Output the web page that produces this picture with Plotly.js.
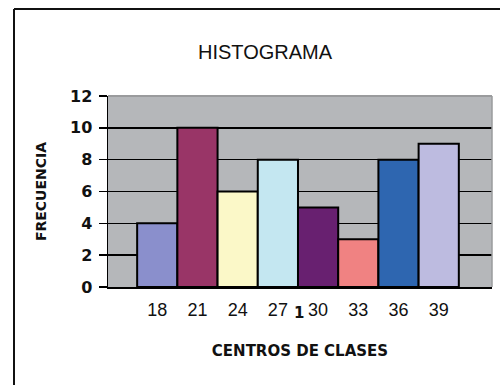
<!DOCTYPE html>
<html>
<head>
<meta charset="utf-8">
<script src="https://cdn.plot.ly/plotly-3.0.1.min.js"></script>
<style>
html,body{margin:0;padding:0;background:#fff;}
#chart{width:500px;height:385px;}
</style>
</head>
<body>
<div id="chart"></div>
<script>
const categories = ["18", "21", "24", "27", "30", "33", "36", "39"];
const frecuencia = [4, 10, 6, 8, 5, 3, 8, 9];
const barColors = ["#8a8fcc", "#993567", "#fbf8c8", "#c4e7f1", "#682070", "#f08282", "#2e66b0", "#bdbbe0"];
const yTicks = [0, 2, 4, 6, 8, 10, 12];

const positions = categories.map((c, i) => i);

const L = 108, R = 8, T = 96, B = 98, W = 500, H = 385;
const pw = W - L - R, ph = H - T - B;
const px = x => (x - L) / pw;
const py = y => (H - B - y) / ph;

const trace = {
  type: "bar",
  x: positions,
  y: frecuencia,
  width: 1,
  marker: {color: barColors, line: {color: "#000", width: 2}},
  hoverinfo: "skip"
};

const layout = {
  width: W, height: H,
  margin: {l: L, r: R, t: T, b: B, pad: 0},
  paper_bgcolor: "#fff",
  plot_bgcolor: "#b5b7ba",
  showlegend: false,
  bargap: 0,
  font: {family: "Liberation Sans, Arial, sans-serif", color: "#111"},
  title: {text: "HISTOGRAMA", font: {size: 20, family: "Liberation Sans, Arial, sans-serif", color: "#111"},
          x: px(265), xref: "paper", xanchor: "center", y: 1 - 52 / H, yanchor: "middle"},
  xaxis: {
    range: [-1.225, 8.325],
    tickmode: "array", tickvals: positions, ticktext: categories,
    showgrid: false, zeroline: false,
    showline: true, linecolor: "#000", linewidth: 1.5,
    ticks: "", ticklen: 0, ticklabelstandoff: 6,
    tickfont: {size: 18, family: "Liberation Sans, Arial, sans-serif", color: "#111"},
    title: {text: "CENTROS DE CLASES", standoff: 26,
            font: {size: 15, family: "DejaVu Sans, sans-serif", color: "#111", weight: "bold"}}
  },
  yaxis: {
    range: [0, 12],
    tickmode: "array", tickvals: yTicks,
    showgrid: true, gridcolor: "#000", gridwidth: 1.5,
    zeroline: false,
    showline: true, linecolor: "#000", linewidth: 1.5,
    ticks: "outside", ticklen: 8, tickcolor: "#000", tickwidth: 1.5,
    ticklabelstandoff: 3,
    tickfont: {size: 16, family: "DejaVu Sans, sans-serif", color: "#111", weight: "bold"},
    title: {text: "FRECUENCIA", standoff: 20,
            font: {size: 14, family: "DejaVu Sans, sans-serif", color: "#111", weight: "bold"}}
  },
  shapes: [
    {type: "line", xref: "paper", yref: "paper", x0: px(14), x1: px(14), y0: py(9), y1: py(385), line: {color: "#111", width: 2}},
    {type: "line", xref: "paper", yref: "paper", x0: px(14), x1: px(500), y0: py(9), y1: py(9), line: {color: "#111", width: 2}},
    {type: "line", xref: "paper", yref: "paper", x0: 0, x1: 1, y0: 1, y1: 1, line: {color: "#9a9b9d", width: 2}, layer: "above"},
    {type: "line", xref: "paper", yref: "paper", x0: 1, x1: 1, y0: 0, y1: 1, line: {color: "#9a9b9d", width: 1.5}, layer: "above"}
  ],
  annotations: [
    {text: "1", xref: "paper", yref: "paper", x: px(299), y: py(313), xanchor: "center", yanchor: "middle", showarrow: false,
     font: {size: 15, family: "DejaVu Sans, sans-serif", color: "#111", weight: "bold"}}
  ]
};

Plotly.newPlot("chart", [trace], layout, {displayModeBar: false, staticPlot: true});
</script>
</body>
</html>
